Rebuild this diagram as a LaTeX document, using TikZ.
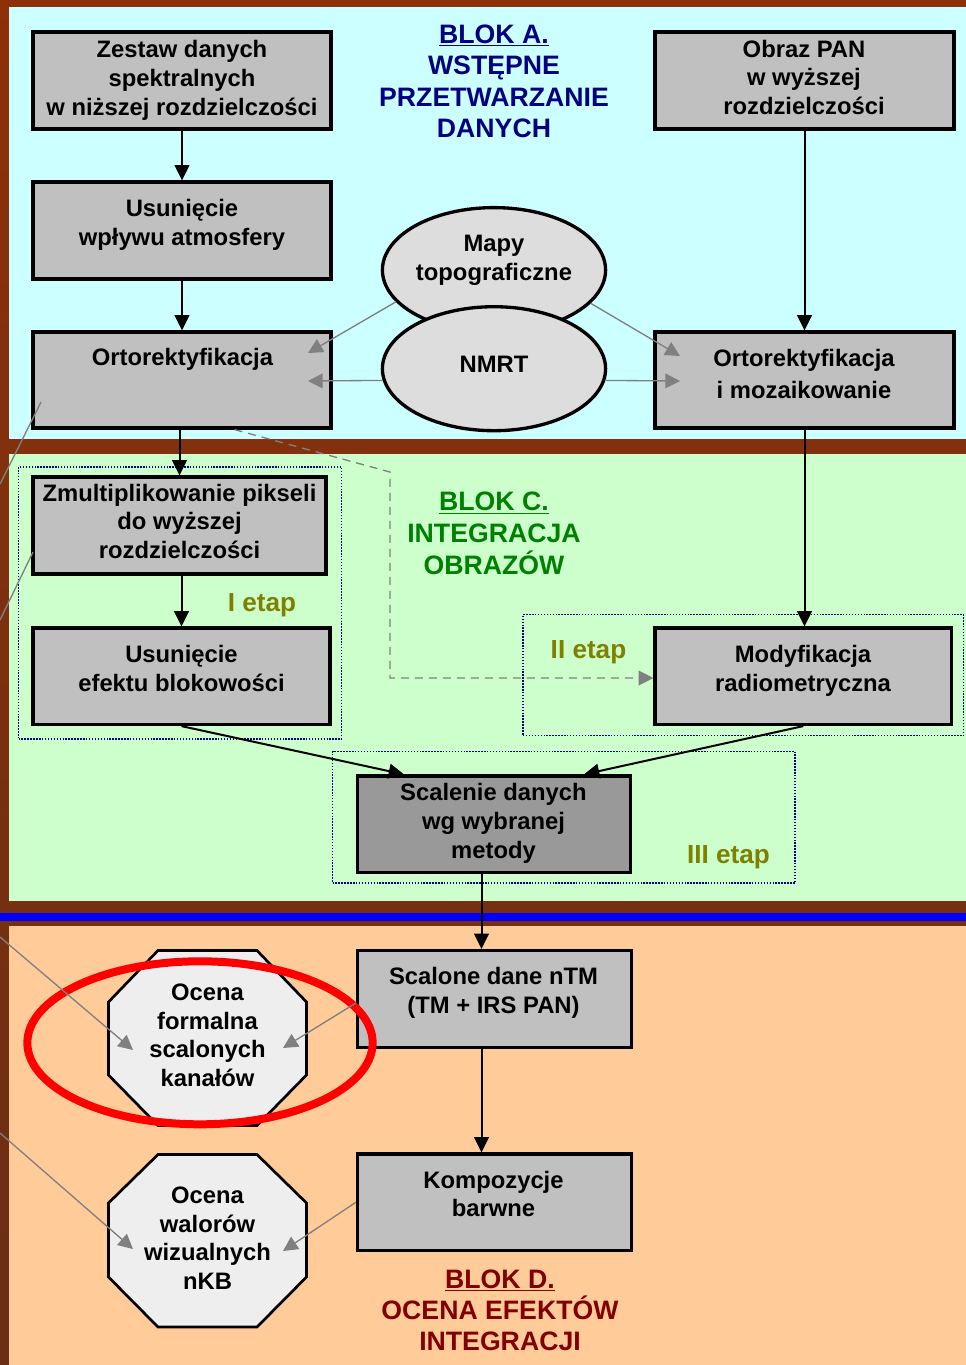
\documentclass[tikz,border=0pt]{standalone}
\usepackage{fontspec}
\setmainfont{Liberation Sans}
\usetikzlibrary{arrows.meta,shapes.geometric,fit,calc}
\definecolor{cyanbg}{HTML}{CCFFFF}
\definecolor{greenbg}{HTML}{CCFFCC}
\definecolor{orangebg}{HTML}{FFCC99}
\definecolor{browntop}{HTML}{8E3009}
\definecolor{brownbot}{HTML}{6A2F14}
\definecolor{boxgray}{HTML}{C0C0C0}
\definecolor{darkboxgray}{HTML}{999999}
\definecolor{ellgray}{HTML}{DDDDDD}
\definecolor{octgray}{HTML}{EEEEEE}
\definecolor{navyc}{HTML}{000080}
\definecolor{greent}{HTML}{008000}
\definecolor{redt}{HTML}{800000}
\definecolor{olivet}{HTML}{808000}
\definecolor{arrgray}{HTML}{808080}
\newcommand\bodyfont{\fontsize{17.85pt}{21.4pt}\selectfont\bfseries\lineskiplimit=-100pt\relax}
\newcommand\etapfont{\fontsize{19.6pt}{23pt}\selectfont\bfseries}
\newcommand\ttlfont[1]{\fontsize{20pt}{#1}\selectfont\bfseries\lineskiplimit=-100pt\relax}
\begin{document}
\begin{tikzpicture}[x=0.75pt,y=-0.75pt,
  box/.style={draw=black, line width=2.4pt, fill=boxgray, inner sep=0pt},
  darkbox/.style={box, fill=darkboxgray},
  ell/.style={ellipse, draw=black, line width=2.5pt, fill=ellgray, inner sep=0pt},
  oct/.style={draw=black, line width=2pt, fill=octgray, line join=miter},
  etapframe/.style={draw=navyc, line width=1.4pt, dash pattern=on 1.1pt off 1.1pt, inner sep=0pt},
  txt/.style={inner sep=0pt, align=center, font=\bodyfont},
  ttl/.style={inner sep=0pt, align=center, font={\ttlfont{#1}}},
  etap/.style={inner sep=0pt, font=\etapfont, text=olivet, anchor=base},
  blk/.style={line width=1.5pt, -{Triangle[length=11.5pt,width=11pt]}},
  gry/.style={draw=arrgray, line width=1pt, -{Triangle[length=11pt,width=11pt]}},
  gryline/.style={draw=arrgray, line width=1pt},
  gdash/.style={gry, dash pattern=on 6pt off 4.5pt},
]
\useasboundingbox (0,0) rectangle (966,1365);
% backgrounds
\shade[top color=browntop,bottom color=brownbot] (0,0) rectangle (966,1365);
\fill[cyanbg] (9,7) rectangle (966,439);
\fill[greenbg] (9,454) rectangle (966,901);
\fill[blue] (0,913) rectangle (966,921);
\fill[orangebg] (9,926) rectangle (966,1365);

% stage frames
\node[etapframe, fit={(18.5,467)(341.5,739)}] (fr1) {};
\node[etapframe, fit={(523,614.5)(963.5,735.5)}] (fr2) {};
\node[etapframe, fit={(332.5,751.5)(795,883)}] (fr3) {};

% boxes
\node[box, fit={(33,32)(331,129)}] (zestaw) {};
\node[box, fit={(33,182)(331,279)}] (usun) {};
\node[box, fit={(33,332)(331,428)}] (orto) {};
\node[box, fit={(655,32)(954,129)}] (pan) {};
\node[box, fit={(655,332)(954,428)}] (ortom) {};
\node[box, fit={(33,477)(326,574)}] (zmult) {};
\node[box, fit={(33,628)(330,724.5)}] (usef) {};
\node[box, fit={(655,628)(951.5,724.5)}] (modyf) {};
\node[darkbox, fit={(357.5,776)(630.5,872.5)}] (scal) {};
\node[box, fit={(357.5,950.5)(631.5,1047.5)}] (scalone) {};
\node[box, fit={(357.5,1154)(631.5,1250.5)}] (kompo) {};

% box texts
\node[txt] (zestawT) at (182,80.8) {\strut Zestaw danych\\\strut spektralnych\\\strut w niższej rozdzielczości};
\node[txt] (usunT) at (182,225.2) {\strut Usunięcie\\\strut wpływu atmosfery};
\node[txt] (ortoT) at (182.5,360) {\strut Ortorektyfikacja};
\node[txt] (panT) at (804,80.1) {\strut Obraz PAN\\\strut w wyższej\\\strut rozdzielczości};
\node[txt, font=\fontsize{17.85pt}{24.2pt}\selectfont\bfseries] (ortomT) at (804,376.4) {\strut Ortorektyfikacja\\\strut i mozaikowanie};
\node[txt] (zmultT) at (179.5,524) {\strut Zmultiplikowanie pikseli\\\strut do wyższej\\\strut rozdzielczości};
\node[txt] (usefT) at (181.5,671.5) {\strut Usunięcie\\\strut efektu blokowości};
\node[txt] (modyfT) at (803,671.5) {\strut Modyfikacja\\\strut radiometryczna};
\node[txt] (scalT) at (493.5,823.8) {\strut Scalenie danych\\\strut wg wybranej\\\strut metody};
\node[txt] (scaloneT) at (493.5,993.5) {\strut Scalone dane nTM\\\strut (TM + IRS PAN)};
\node[txt] (kompoT) at (493.5,1196.8) {\strut Kompozycje\\\strut barwne};

% ellipses
\node[ell, minimum width=167.4pt, minimum height=93.6pt] (mapy) at (494,270) {};
\node[txt] (mapyT) at (494,260.3) {\strut Mapy\\\strut topograficzne};
\node[ell, minimum width=167.4pt, minimum height=93pt] (nmrt) at (494,368.7) {};
\node[txt] (nmrtT) at (494,366.3) {\strut NMRT};

% octagons
\node[inner sep=0pt, fit={(108.5,950.5)(306.5,1125.5)}] (oc1) {};
\draw[oct] (158,950.5) -- (257,950.5) -- (306.5,1002) -- (306.5,1075) -- (257,1125.5) -- (158,1125.5) -- (108.5,1075) -- (108.5,1002) -- cycle;
\node[txt] (oc1T) at (207.5,1037.7) {\strut Ocena\\\strut formalna\\\strut scalonych\\\strut kanałów};
\node[inner sep=0pt, fit={(108.5,1154.5)(306.5,1327)}] (oc2) {};
\draw[oct] (158,1154.5) -- (257,1154.5) -- (306.5,1203) -- (306.5,1277) -- (257,1327) -- (158,1327) -- (108.5,1277) -- (108.5,1203) -- cycle;
\node[txt] (oc2T) at (207.5,1241) {\strut Ocena\\\strut walorów\\\strut wizualnych\\\strut nKB};

% red ring
\node[ellipse, draw=red, line width=6pt, minimum width=259pt, minimum height=122.25pt, inner sep=0pt] (ring) at (200,1042.8) {};

% stage labels
\node[etap] (e1) at (262,611.7) {I etap};
\node[etap] (e2) at (588.5,658.3) {II etap};
\node[etap] (e3) at (728.5,863.3) {III etap};

% block titles
\node[ttl=23.6pt, text=navyc] (blokA) at (494,84.2) {\strut\underline{BLOK A.}\\\strut WSTĘPNE\\\strut PRZETWARZANIE\\\strut DANYCH};
\node[ttl=24.1pt, text=greent] (blokC) at (494,536.4) {\strut\underline{BLOK C.}\\\strut INTEGRACJA\\\strut OBRAZÓW};
\node[ttl=23.4pt, text=redt] (blokD) at (500,1313.3) {\strut\underline{BLOK D.}\\\strut OCENA EFEKTÓW\\\strut INTEGRACJI};

% black arrows
\draw[blk] (zestaw.south) -- (usun.north);
\draw[blk] (usun.south) -- (orto.north);
\draw[blk] (pan.south) -- (ortom.north);
\draw[blk] (orto.south -| zmult.north) -- (zmult.north);
\draw[blk] (usef.north |- zmult.south) -- (usef.north);
\draw[blk] (ortom.south) -- (ortom.south |- modyf.north);
\draw[blk] (usef.south) -- ($(scal.north)+(-90,0)$);
\draw[blk] (modyf.south) -- ($(scal.north)+(90,0)$);
\draw[blk] ($(scal.south)+(-12.5,0)$) -- ($(scalone.north)+(-13,0)$);
\draw[blk] ($(scalone.south)+(-13,0)$) -- ($(kompo.north)+(-13,0)$);

% gray connectors
\coordinate (ol1) at (308,353);
\coordinate (ol2) at (308,381);
\coordinate (or1) at (680,356);
\coordinate (or2) at (680,381);
\draw[gry] (mapy.198) -- (ol1);
\draw[gry] (nmrt.186) -- (ol2);
\draw[gry] (mapy.-19) -- (or1);
\draw[gry] (nmrt.-6) -- (or2);
\coordinate (db1) at (390,472);
\coordinate (db2) at (390,678);
\draw[gdash] ($(orto.south east)+(-98,0)$) -- (db1) -- (db2) -- (db2 -| modyf.west);
\coordinate (g1s) at (41,402);
\coordinate (g1e) at (0,484);
\draw[gryline] (g1s) -- (g1e);
\coordinate (g2s) at (33,552);
\coordinate (g2e) at (0,620);
\draw[gryline] (g2s) -- (g2e);
\coordinate (g3s) at (0,937);
\coordinate (oc1l) at (133,1050);
\draw[gry] (g3s) -- (oc1l);
\coordinate (oc1r) at (283,1048);
\draw[gry] ($(scalone.west)+(0,4)$) -- (oc1r);
\coordinate (g4s) at (0,1133);
\coordinate (oc2l) at (133,1249);
\draw[gry] (g4s) -- (oc2l);
\coordinate (oc2r) at (283,1251);
\draw[gry] (kompo.west) -- (oc2r);
\end{tikzpicture}
\end{document}
